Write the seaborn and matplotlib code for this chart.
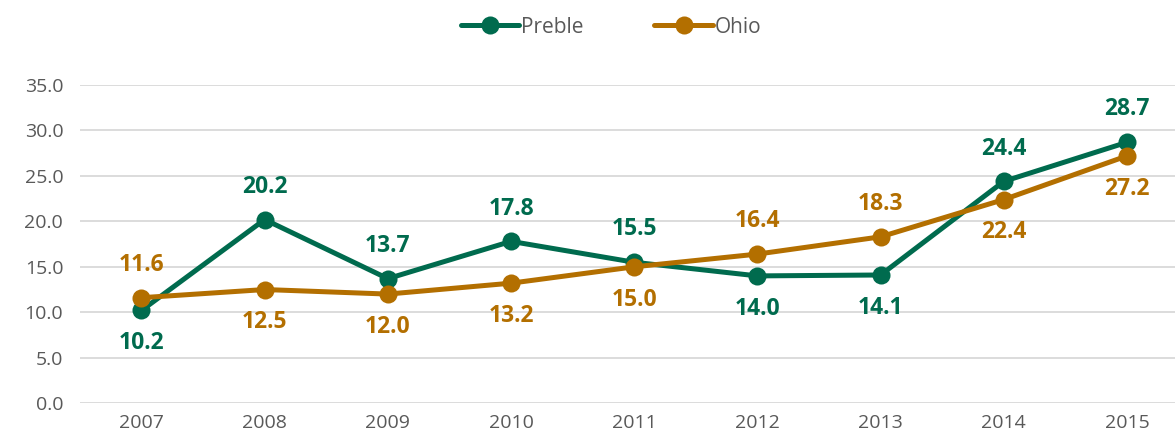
import numpy as np
import pandas as pd
import matplotlib
matplotlib.use('Agg')
import matplotlib.pyplot as plt
import seaborn as sns

years = ['2007', '2008', '2009', '2010', '2011', '2012', '2013', '2014', '2015']
preble = [10.2, 20.2, 13.7, 17.8, 15.5, 14.0, 14.1, 24.4, 28.7]
ohio = [11.6, 12.5, 12.0, 13.2, 15.0, 16.4, 18.3, 22.4, 27.2]
# label above (+1) or below (-1) the point
preble_side = [-1, 1, 1, 1, 1, -1, -1, 1, 1]
ohio_side = [1, -1, -1, -1, -1, 1, 1, -1, -1]

GREEN = '#006B4E'
GOLD = '#B36F00'

sns.set_theme(style='white')
plt.rcParams['font.family'] = ['Open Sans', 'DejaVu Sans']

df = pd.DataFrame({
    'year': years * 2,
    'value': preble + ohio,
    'series': ['Preble'] * len(years) + ['Ohio'] * len(years),
})
df['x'] = df['year'].map({y: i for i, y in enumerate(years)})

fig = plt.figure(figsize=(11.75, 4.43), dpi=100)
ax = fig.add_axes([0.068, 0.09, 0.932, 0.718])

sns.lineplot(data=df, x='x', y='value', hue='series',
             palette={'Preble': GREEN, 'Ohio': GOLD},
             hue_order=['Preble', 'Ohio'],
             marker='o', markersize=13, markeredgewidth=0, lw=3.6,
             ax=ax, legend=True)

for vals, sides, col in [(preble, preble_side, GREEN), (ohio, ohio_side, GOLD)]:
    for i, (v, s) in enumerate(zip(vals, sides)):
        ax.annotate(f'{v:.1f}', (i, v), xytext=(0, 15 * s), textcoords='offset points',
                    ha='center', va='bottom' if s > 0 else 'top',
                    fontsize=16.5, fontweight='bold', color=col)

ax.set_ylim(0, 35)
ax.set_xlim(-0.5, 8.39)
ax.set_yticks(np.arange(0, 35.1, 5))
ax.set_yticklabels([f'{t:.1f}' for t in np.arange(0, 35.1, 5)])
ax.set_xticks(range(len(years)))
ax.set_xticklabels(years)
ax.tick_params(axis='both', labelsize=14, colors='#595959', length=0)
ax.tick_params(axis='y', pad=12)
ax.tick_params(axis='x', pad=8)
ax.set_xlabel(''); ax.set_ylabel('')
ax.grid(axis='y', color='#d9d9d9', lw=1.3)
ax.set_axisbelow(True)
for sp in ax.spines.values():
    sp.set_visible(False)

leg = ax.legend(loc='center', bbox_to_anchor=(0.485, 1.182), ncol=2,
                frameon=False, fontsize=15, handlelength=2.8, handletextpad=0.1,
                columnspacing=3.4)
for t in leg.get_texts():
    t.set_color('#595959')

fig.savefig('out.png', dpi=100)
